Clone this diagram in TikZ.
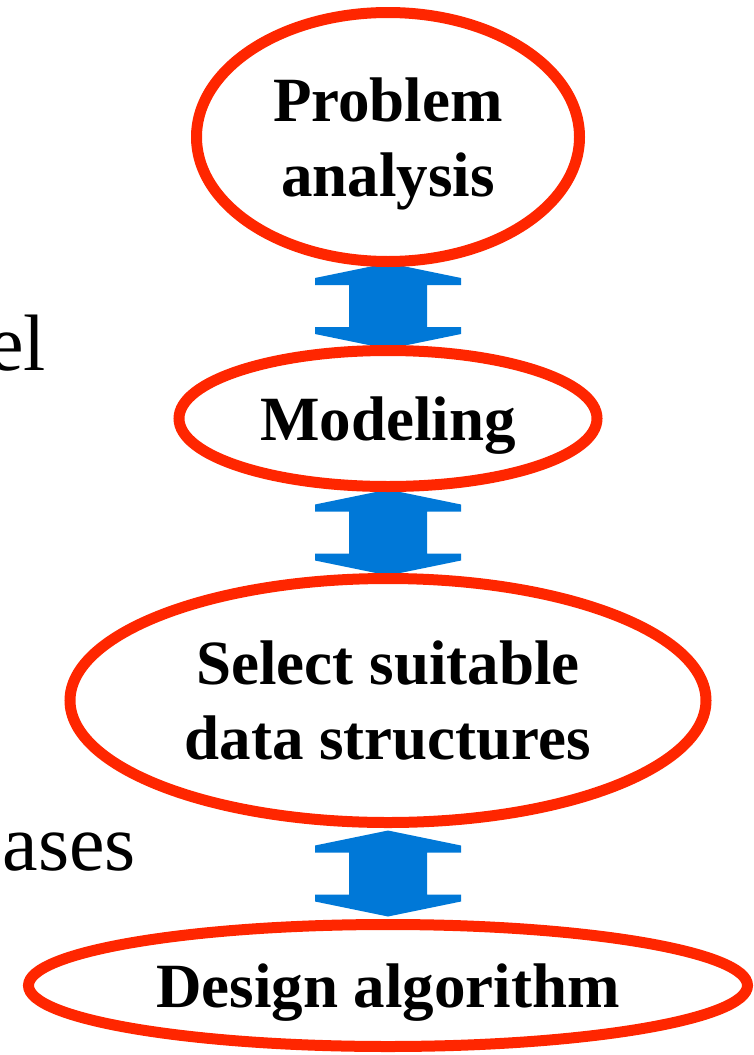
\documentclass[tikz,border=0pt]{standalone}
\usepackage{fontspec}
\setmainfont{Liberation Serif}
\usepackage{xcolor}
\usetikzlibrary{positioning, shapes.geometric, calc, backgrounds}

\definecolor{ovalred}{RGB}{255,38,0}
\definecolor{arrowblue}{RGB}{0,120,215}

% two-headed block arrow, centred in the gap between two ovals
\newcommand{\dualarrow}[2]{%
	\coordinate (#1-#2) at ($(#1.south)!0.5!(#2.north)$);
	\fill [arrowblue] (#1-#2) ++(0,-43) -- ++(73,15) -- ++(0,7) -- ++(-34,0)
	-- ++(0,42) -- ++(34,0) -- ++(0,7) -- ++(-73,15) -- ++(-73,-15) -- ++(0,-7)
	-- ++(34,0) -- ++(0,-42) -- ++(-34,0) -- ++(0,-7) -- cycle;
}

\begin{document}
\begin{tikzpicture}[
	x=1pt, y=-1pt,
	% --- Styles ---
	phase/.style={
		ellipse, draw=ovalred, line width=11pt, inner sep=0pt, align=center,
		text depth=0pt, font=\bfseries\fontsize{63}{75}\selectfont
	},
	sidetext/.style={
		font=\fontsize{80}{96}\selectfont, inner sep=0pt, anchor=base east
	}
	]
	
	\useasboundingbox (0,0) rectangle (754,1055);
	
	% --- 1. The ovals, top to bottom ---
	\node [phase, minimum width=383pt, minimum height=249pt] (analysis) at (388,137) {Problem\\analysis};
	
	\node [phase, minimum width=418pt, minimum height=136pt, below=78pt of analysis] (modeling) {Modeling};
	
	\node [phase, minimum width=636pt, minimum height=244pt, below=81pt of modeling] (structures) {Select suitable\\data structures};
	
	\node [phase, minimum width=719pt, minimum height=122pt, below=91pt of structures] (algorithm) {Design algorithm};
	
	% --- 2. Arrows between the ovals (behind them) ---
	\begin{scope}[on background layer]
		\dualarrow{analysis}{modeling}
		\dualarrow{modeling}{structures}
		\dualarrow{structures}{algorithm}
	\end{scope}
	
	% --- 3. Cut-off words at the left edge ---
	\node [sidetext] (modelword) at (46,370) {el};
	\node [sidetext] (phaseword) at (136,870) {ases};
	
\end{tikzpicture}
\end{document}
